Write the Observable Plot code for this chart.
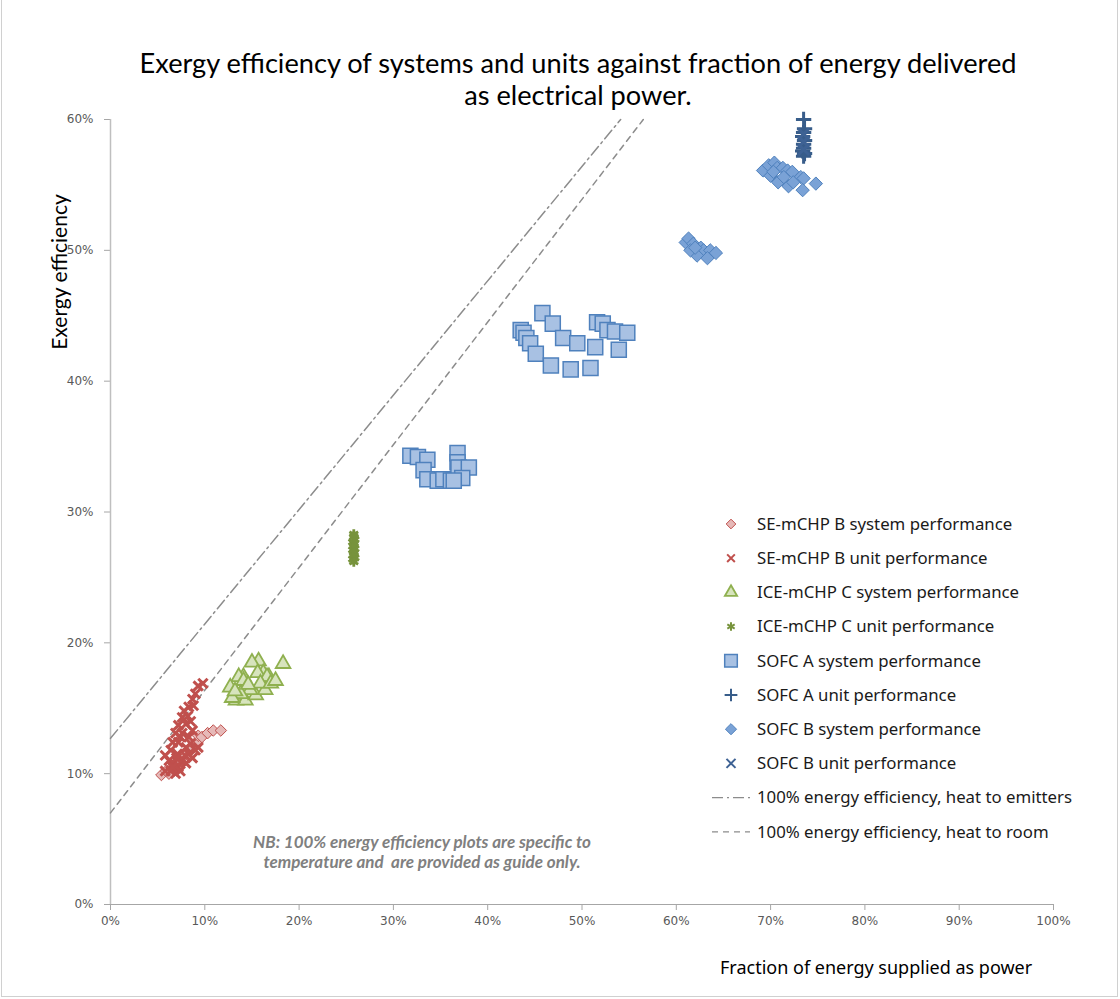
<!DOCTYPE html>
<html><head><meta charset="utf-8">
<script src="https://cdn.jsdelivr.net/npm/d3@7"></script>
<script src="https://cdn.jsdelivr.net/npm/@observablehq/plot@0.6"></script>
<style>
html,body{margin:0;padding:0;background:#fff;}
#wrap{position:relative;width:1120px;height:999px;overflow:hidden;background:#fff;}
#frame{position:absolute;left:1px;top:-2px;width:1117px;height:999px;border:1px solid #d0d0d0;box-sizing:border-box;pointer-events:none}
#chart{position:absolute;left:0;top:0;}
#title{position:absolute;left:0;width:1156px;top:47px;text-align:center;font-family:Lato,sans-serif;font-size:27.2px;line-height:32px;color:#000;}
#ylab{position:absolute;left:58px;top:272px;transform:translate(-50%,-50%) rotate(-90deg);font-family:Lato,sans-serif;font-size:21px;color:#000;white-space:nowrap;}
#xlab{position:absolute;left:720px;top:955px;font-family:"Noto Sans",sans-serif;font-size:18px;color:#000;white-space:nowrap;}
#nb{position:absolute;left:172px;width:500px;top:832px;text-align:center;font-family:Lato,sans-serif;font-style:italic;font-weight:bold;font-size:17px;line-height:20px;color:#808080;}
#legend{position:absolute;left:700px;top:507px;}
</style></head>
<body>
<div id="wrap">
  <div id="chart"></div>
  <div id="title">Exergy efficiency of systems and units against fraction of energy delivered<br>as electrical power.</div>
  <div id="ylab">Exergy efficiency</div>
  <div id="xlab">Fraction of energy supplied as power</div>
  <div id="nb">NB: 100% energy efficiency plots are specific to<br>temperature and&nbsp; are provided as guide only.</div>
  <div id="legend"></div>
  <div id="frame"></div>
</div>
<script>
// ---- data (x = % energy supplied as power, y = % exergy efficiency) ----
const xTicks = [0,10,20,30,40,50,60,70,80,90,100];
const yTicks = [0,10,20,30,40,50,60];

const seSystem = [[5.4,9.9],[5.9,10.2],[6.2,10.0],[6.5,10.5],[7.0,10.9],[7.3,10.6],[7.6,11.2],[8.2,11.6],[8.7,12.0],[9.2,12.4],[9.3,12.9],[9.7,12.8],[10.3,13.1],[10.9,13.3],[11.7,13.3]];
const seUnit = [[9.3,16.7],[9.8,16.9],[9.0,16.1],[8.7,15.7],[8.3,15.1],[8.8,15.2],[8.2,14.4],[7.6,14.3],[7.2,13.7],[8.0,13.8],[6.9,13.1],[7.6,13.1],[6.6,12.4],[7.2,12.4],[6.4,11.8],[5.8,11.4],[7.1,11.5],[6.2,11.0],[6.7,10.8],[5.8,10.2],[6.4,10.2],[7.2,10.5],[8.0,10.8],[8.7,11.2],[9.0,11.8],[9.3,12.0],[8.3,11.5],[7.6,11.0],[6.9,10.0],[8.0,12.0],[8.3,12.8],[8.7,13.3],[7.4,12.8],[7.8,14.8],[8.5,14.0],[7.0,11.2],[7.9,11.4],[8.5,12.3],[6.6,10.5],[7.4,10.2]];
const iceSystem = [[15.7,18.6],[15.0,18.5],[18.3,18.4],[16.2,17.7],[16.8,17.4],[15.6,17.7],[14.1,17.4],[13.6,17.4],[12.7,16.6],[14.1,17.1],[16.6,17.4],[13.3,15.6],[14.3,15.6],[15.4,16.0],[16.4,16.4],[15.9,16.9],[14.8,16.4],[13.8,16.1],[12.9,15.8],[17.0,16.9],[17.5,17.1],[14.6,16.8],[13.2,16.3]];
const iceUnit = [[25.8,26.2],[25.7,26.4],[25.9,26.5],[25.8,26.7],[25.8,26.9],[25.7,27.1],[25.9,27.2],[25.8,27.4],[25.8,27.6],[25.7,27.7],[25.9,27.9],[25.8,28.1],[25.8,28.3]];
const sofcASystem = [[31.8,34.3],[32.6,34.2],[33.6,34.0],[33.2,33.2],[33.6,32.5],[34.7,32.4],[35.3,32.5],[36.1,32.4],[36.8,34.5],[36.8,33.8],[36.9,33.4],[38.0,33.4],[37.3,32.6],[36.4,32.4],
  [45.8,45.2],[46.9,44.4],[43.5,43.9],[43.8,43.7],[44.1,43.3],[44.5,42.9],[45.1,42.1],[46.7,41.2],[48.8,40.9],[50.9,41.0],[48.0,43.3],[49.5,42.9],[51.4,42.6],[51.6,44.5],[52.2,44.4],[52.7,43.9],[53.5,43.8],[54.8,43.7],[53.9,42.4]];
const sofcAUnit = [[73.5,60.0],[73.6,59.3],[73.5,59.0],[73.4,58.7],[73.6,58.4],[73.5,58.1],[73.5,57.8],[73.4,57.6],[73.6,57.4],[73.5,57.2]];
const sofcBSystem = [[61.0,50.6],[61.3,50.9],[61.8,50.5],[62.6,50.2],[62.9,50.0],[63.6,50.0],[64.2,49.8],[62.2,49.6],[63.3,49.4],[61.5,50.0],[62.0,50.2],
  [69.2,56.1],[69.8,56.5],[70.4,56.7],[70.7,56.3],[71.3,56.3],[71.8,56.1],[72.3,56.0],[73.2,55.6],[73.5,55.5],[70.8,55.2],[71.9,54.9],[73.4,54.6],[74.8,55.1],[72.4,55.2],[70.0,55.7],[71.4,55.6],[70.3,56.0]];
const sofcBUnit = [[73.5,58.9],[73.5,58.3],[73.5,57.7]];

const lineEmitters = [[0,12.7],[54.1,60]];
const lineRoom = [[0,7.0],[56.5,60]];

const toObj = a => a.map(([x,y]) => ({x,y}));

// ---- series styling ----
const series = [
  {label:"SE-mCHP B system performance", data:seSystem, symbol:"diamond2", r:5.2, fill:"#e6b9b8", stroke:"#c0504d", sw:1},
  {label:"SE-mCHP B unit performance", data:seUnit, symbol:"times", r:4.3, fill:"none", stroke:"#c0504d", sw:3},
  {label:"ICE-mCHP C system performance", data:iceSystem, symbol:"triangle2", r:7, fill:"#d7e4bd", stroke:"#8fb04f", sw:1.8},
  {label:"ICE-mCHP C unit performance", data:iceUnit, symbol:"asterisk", r:4.8, fill:"none", stroke:"#77933c", sw:2.8},
  {label:"SOFC A system performance", data:sofcASystem, symbol:"square", r:8.5, fill:"#a8c1e3", stroke:"#4f81bd", sw:1.5},
  {label:"SOFC A unit performance", data:sofcAUnit, symbol:"plus", r:5, fill:"none", stroke:"#385d8a", sw:3},
  {label:"SOFC B system performance", data:sofcBSystem, symbol:"diamond2", r:6, fill:"#7aa2d6", stroke:"#4f81bd", sw:1},
  {label:"SOFC B unit performance", data:sofcBUnit, symbol:"times", r:5, fill:"none", stroke:"#3e6294", sw:3}
];
const lines = [
  {label:"100% energy efficiency, heat to emitters", data:lineEmitters, dash:"11,4,2,4"},
  {label:"100% energy efficiency, heat to room", data:lineRoom, dash:"6,5"}
];

const pct = d => d + "%";
const chart = Plot.plot({
  width:1120, height:999,
  marginLeft:110, marginRight:67, marginTop:119, marginBottom:95,
  x:{domain:[0,100]},
  y:{domain:[0,60]},
  style:{fontFamily:"DejaVu Sans", fontSize:"12px", color:"#595959", background:"transparent"},
  marks:[
    Plot.axisY({ticks:yTicks, tickFormat:pct, tickSize:6, tickPadding:11, stroke:"#a6a6a6", fill:"#595959", fontSize:12, label:null}),
    Plot.axisX({ticks:xTicks, tickFormat:pct, tickSize:6, tickPadding:6, stroke:"#a6a6a6", fill:"#595959", fontSize:12, label:null}),
    Plot.ruleX([0], {stroke:"#bfbfbf", strokeWidth:1.5}),
    Plot.ruleY([0], {stroke:"#a6a6a6", strokeWidth:1.2}),
    ...lines.map(l => Plot.line(toObj(l.data), {x:"x", y:"y", stroke:"#8c8c8c", strokeWidth:1.5, strokeDasharray:l.dash})),
    ...series.map(s => Plot.dot(toObj(s.data), {x:"x", y:"y", symbol:s.symbol, r:s.r, fill:s.fill, stroke:s.stroke, strokeWidth:s.sw}))
  ]
});
document.getElementById("chart").appendChild(chart);

// ---- legend ----
const symMap = {diamond2:d3.symbolDiamond2, times:d3.symbolTimes, triangle2:d3.symbolTriangle2, asterisk:d3.symbolAsterisk, square:d3.symbolSquare, plus:d3.symbolPlus};
const rowH = 34.2;
const lg = d3.select("#legend").append("svg").attr("width", 410).attr("height", 350);
const rows = [...series.map(s => ({...s, kind:"dot"})), ...lines.map(l => ({...l, kind:"line"}))];
rows.forEach((d, i) => {
  const g = lg.append("g").attr("transform", `translate(0,${17 + i*rowH})`);
  if (d.kind === "dot") {
    g.append("path")
      .attr("transform", "translate(31,0)")
      .attr("d", d3.symbol(symMap[d.symbol], Math.PI*d.r*d.r*0.7)())
      .attr("fill", d.fill === "none" ? "none" : d.fill)
      .attr("stroke", d.stroke).attr("stroke-width", Math.min(d.sw, 2));
  } else {
    g.append("line").attr("x1", 12).attr("x2", 50).attr("y1", 0).attr("y2", 0)
      .attr("stroke", "#8c8c8c").attr("stroke-width", 1.3).attr("stroke-dasharray", d.dash);
  }
  g.append("text").attr("x", 57).attr("y", 0).attr("dy", "0.35em")
    .attr("font-family", "Noto Sans").attr("font-size", 16.8).attr("fill", "#1a1a1a").text(d.label);
});
</script>
</body></html>
